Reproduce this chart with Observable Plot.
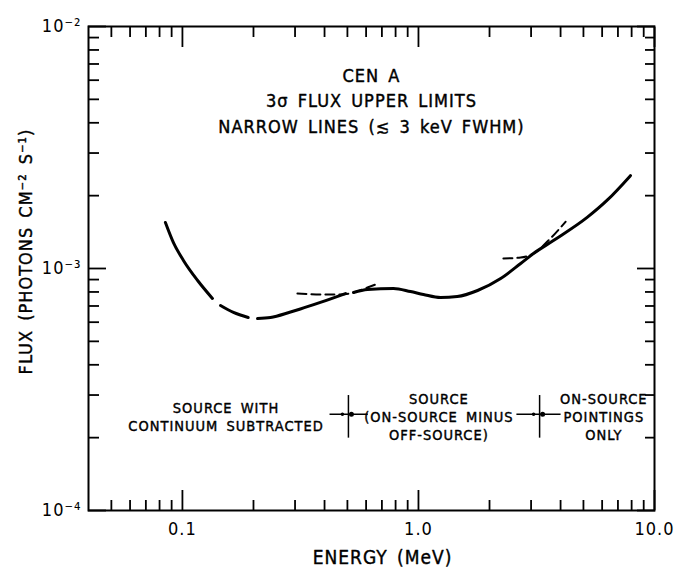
<!DOCTYPE html>
<html><head><meta charset="utf-8">
<script src="https://cdn.jsdelivr.net/npm/d3@7"></script>
<script src="https://cdn.jsdelivr.net/npm/@observablehq/plot@0.6"></script>
<style>body{margin:0;background:#fff;}</style>
</head><body><div id="chart"></div>
<script>
// ---- axis ticks and labels ----
const energyMajorTicks = [0.1, 1, 10];
const energyMajorLabels = ["0.1", "1.0", "10.0"];
const energyMinorTicks = [0.05, 0.06, 0.07, 0.08, 0.09, 0.2, 0.3, 0.4, 0.5, 0.6, 0.7, 0.8, 0.9, 2, 3, 4, 5, 6, 7, 8, 9];
const fluxMajorTicks = [1e-4, 1e-3, 1e-2];
const fluxMajorLabels = ["10⁻⁴", "10⁻³", "10⁻²"];
const fluxMinorTicks = [2e-4, 3e-4, 4e-4, 5e-4, 6e-4, 7e-4, 8e-4, 9e-4, 2e-3, 3e-3, 4e-3, 5e-3, 6e-3, 7e-3, 8e-3, 9e-3];

// ---- 3-sigma upper limit curve (solid, broken into pieces) ----
const curveEnergy = [0.0847, 0.0916, 0.101, 0.116, 0.134,
  0.145, 0.1645, 0.190,
  0.208, 0.236, 0.287, 0.316, 0.384, 0.491,
  0.531, 0.608, 0.784, 0.925, 1.05, 1.24, 1.46, 1.78, 2.23, 2.71, 3.07, 3.73, 5.2, 6.32, 7.91];
const curveFlux = [1.55e-3, 1.28e-3, 1.08e-3, 8.92e-4, 7.52e-4,
  7.03e-4, 6.58e-4, 6.27e-4,
  6.21e-4, 6.27e-4, 6.61e-4, 6.80e-4, 7.24e-4, 7.88e-4,
  7.96e-4, 8.19e-4, 8.27e-4, 8.03e-4, 7.81e-4, 7.59e-4, 7.66e-4, 8.11e-4, 9.09e-4, 1.049e-3, 1.153e-3, 1.305e-3, 1.63e-3, 1.92e-3, 2.42e-3];
const curvePiece = [1,1,1,1,1, 2,2,2, 3,3,3,3,3,3, 4,4,4,4,4,4,4,4,4,4,4,4,4,4,4];

// ---- dashed extrapolations at the regime boundaries ----
const dashEnergy = [0.307, 0.384, 0.47, 0.531, 0.608, 0.677,
  2.29, 2.71, 3.07, 3.62, 4.2];
const dashFlux = [7.88e-4, 7.81e-4, 7.81e-4, 7.96e-4, 8.35e-4, 8.67e-4,
  1.10e-3, 1.11e-3, 1.153e-3, 1.33e-3, 1.56e-3];
const dashPiece = [1,1,1,1,1,1, 2,2,2,2,2];

// ---- regime boundary markers ----
const boundaryEnergy = [0.505, 3.26];
const boundaryEnergyLow = [0.42, 2.6];
const boundaryEnergyHigh = [0.61, 4.0];
const boundaryFlux = [2.5e-4, 2.5e-4];
const boundaryFluxLow = [2e-4, 2e-4];
const boundaryFluxHigh = [3e-4, 3e-4];

// ---- regime labels ----
const regimeLabels = ["SOURCE WITH\nCONTINUUM SUBTRACTED", "SOURCE\n(ON-SOURCE MINUS\nOFF-SOURCE)", "ON-SOURCE\nPOINTINGS\nONLY"];
const regimeEnergy = [0.153, 1.22, 6.1];
const regimeFlux = [2.45e-4, 2.45e-4, 2.45e-4];

const titleText = "CEN A\n3σ FLUX UPPER LIMITS\nNARROW LINES (≲ 3 keV FWHM)";
const xLabel = "ENERGY (MeV)";
const yLabel = "FLUX (PHOTONS CM⁻² S⁻¹)";

const curve = curveEnergy.map((e, i) => ({e, f: curveFlux[i], p: curvePiece[i]}));
const dash = dashEnergy.map((e, i) => ({e, f: dashFlux[i], p: dashPiece[i]}));
const bounds = boundaryEnergy.map((e, i) => ({e, lo: boundaryEnergyLow[i], hi: boundaryEnergyHigh[i], f: boundaryFlux[i], flo: boundaryFluxLow[i], fhi: boundaryFluxHigh[i]}));
const regimes = regimeLabels.map((t, i) => ({t, e: regimeEnergy[i], f: regimeFlux[i]}));
const xLab = new Map(energyMajorTicks.map((d, i) => [d, energyMajorLabels[i]]));
const yLab = new Map(fluxMajorTicks.map((d, i) => [d, fluxMajorLabels[i]]));
const none = () => "";
const ink = {fill: "black", stroke: "black", strokeWidth: 0.4};

const chart = Plot.plot({
  width: 676,
  height: 567,
  marginLeft: 88,
  marginRight: 22,
  marginTop: 26,
  marginBottom: 57,
  style: {fontFamily: "'DejaVu Sans Condensed', 'DejaVu Sans', sans-serif", color: "black", background: "white", letterSpacing: "1px", wordSpacing: "3px"},
  x: {type: "log", domain: [0.04, 10]},
  y: {type: "log", domain: [1e-4, 1e-2]},
  marks: [
    Plot.frame({stroke: "black", strokeWidth: 2}),
    // inward ticks
    Plot.axisX(energyMinorTicks, {anchor: "bottom", tickSize: -10, strokeWidth: 1.8, tickFormat: none}),
    Plot.axisX(energyMajorTicks, {anchor: "bottom", tickSize: -20, strokeWidth: 1.8, tickFormat: none}),
    Plot.axisX(energyMinorTicks, {anchor: "top", tickSize: -10, strokeWidth: 1.8, tickFormat: none}),
    Plot.axisX(energyMajorTicks, {anchor: "top", tickSize: -20, strokeWidth: 1.8, tickFormat: none}),
    Plot.axisY(fluxMinorTicks, {anchor: "left", tickSize: -11, strokeWidth: 1.8, tickFormat: none}),
    Plot.axisY(fluxMajorTicks, {anchor: "left", tickSize: -18, strokeWidth: 1.8, tickFormat: none}),
    Plot.axisY(fluxMinorTicks, {anchor: "right", tickSize: -10, strokeWidth: 1.8, tickFormat: none}),
    Plot.axisY(fluxMajorTicks, {anchor: "right", tickSize: -18, strokeWidth: 1.8, tickFormat: none}),
    // tick labels
    Plot.axisX(energyMajorTicks, {anchor: "bottom", tickSize: 0, tickPadding: 12, fontSize: 18, tickFormat: d => xLab.get(d)}),
    Plot.axisY(fluxMajorTicks, {anchor: "left", tickSize: 0, tickPadding: 7, fontSize: 18, tickFormat: d => yLab.get(d)}),
    // axis titles
    Plot.text([xLabel], {text: d => d, frameAnchor: "bottom", lineAnchor: "middle", dy: 47, dx: 11, fontSize: 19, ...ink}),
    Plot.text([yLabel], {text: d => d, frameAnchor: "left", textAnchor: "middle", lineAnchor: "middle", rotate: -90, dx: -62, dy: -17, fontSize: 18, ...ink}),
    // title block
    Plot.text([titleText], {text: d => d, frameAnchor: "top", lineAnchor: "top", dy: 37, fontSize: 18, lineHeight: 1.42, ...ink}),
    // curves
    Plot.line(curve, {x: "e", y: "f", z: "p", curve: "monotone-x", stroke: "black", strokeWidth: 3}),
    Plot.line(dash, {x: "e", y: "f", z: "p", curve: "monotone-x", stroke: "black", strokeWidth: 2, strokeDasharray: "9,5"}),
    // boundary markers
    Plot.link(bounds, {x1: "lo", x2: "hi", y1: "f", y2: "f", stroke: "black", strokeWidth: 1.5}),
    Plot.link(bounds, {x1: "e", x2: "e", y1: "flo", y2: "fhi", stroke: "black", strokeWidth: 1.5}),
    Plot.dot(bounds, {x: "e", y: "f", r: 2.5, fill: "black", dx: 3}),
    Plot.dot(bounds, {x: "e", y: "f", r: 1.8, fill: "black", dx: -6}),
    // regime labels
    Plot.text(regimes, {x: "e", y: "f", text: "t", fontSize: 14.5, lineHeight: 1.25, ...ink})
  ]
});
document.getElementById("chart").appendChild(chart);
</script>
</body></html>
